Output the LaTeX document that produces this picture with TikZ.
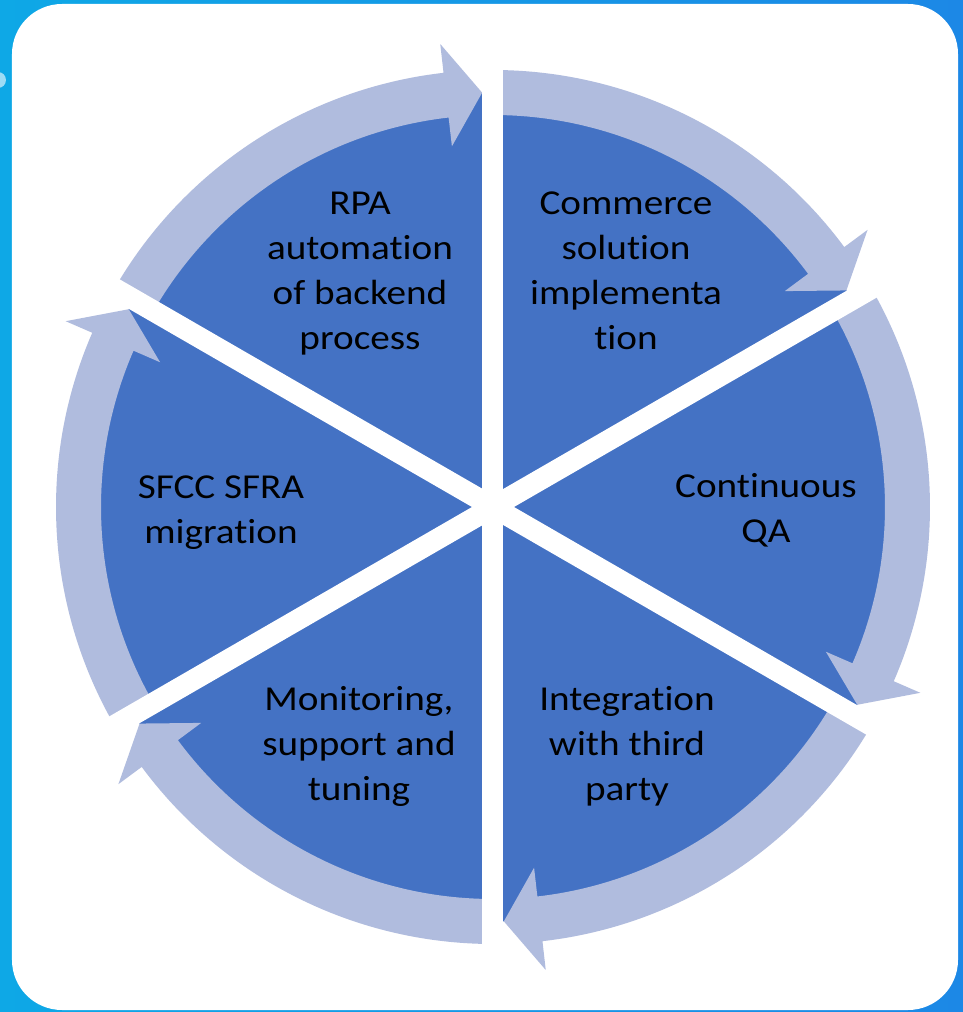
\documentclass[tikz,border=0pt]{standalone}
\usepackage{fontspec}
\setmainfont{Carlito}[FakeStretch=1.12,Ligatures=NoCommon]
\definecolor{bgL}{RGB}{14,168,230}
\definecolor{bgR}{RGB}{28,136,230}
\definecolor{pieblue}{RGB}{68,114,196}
\definecolor{ringblue}{RGB}{176,188,222}
\begin{document}
\begin{tikzpicture}[x=1pt,y=1pt,
  lbl/.style={align=center,inner sep=0pt,text=black,font=\fontsize{35}{45}\selectfont}]
\useasboundingbox (-493,-505) rectangle (470,507);
\fill[left color=bgL,right color=bgR] (-493,-505) rectangle (470,507);
\fill[white,opacity=0.6] (-495,427) circle[radius=8];
\fill[white,rounded corners=50] (-481,503) rectangle (465,-503);
% pie
\fill[pieblue] (0,0) circle[radius=414.5];
% arrows (clockwise)
\foreach \s [evaluate=\s as \b using \s-53.5, evaluate=\s as \t using \s-58.5] in {90,30,-30,-90,-150,-210}{
  \fill[ringblue] (\s:437) arc[start angle=\s, end angle=\b, radius=437]
     -- (\b:466) -- (\t:414.5) -- (\b:363) -- (\b:392)
     arc[start angle=\b, end angle=\s, radius=392] -- cycle;
}
% gaps
\foreach \a [evaluate=\a as \o using \a+180] in {90,30,-30}{
  \draw[white,line width=21] (\a:445) -- (\o:445);
}
% labels
\node[lbl] (rpa) at (-133,233.5) {\strut RPA\\automation\\of backend\\process\strut};
\node[lbl] (com) at (133,233.5) {\strut Commerce\\solution\\implementa\\tion\strut};
\node[lbl] (qa) at (273,-3.5) {\strut Continuous\\QA\strut};
\node[lbl] (int) at (134,-239) {\strut Integration\\with third\\party\strut};
\node[lbl] (mon) at (-134,-239) {\strut Monitoring,\\support and\\tuning\strut};
\node[lbl] (sfcc) at (-272,-4.5) {\strut SFCC SFRA\\migration\strut};
\end{tikzpicture}
\end{document}
